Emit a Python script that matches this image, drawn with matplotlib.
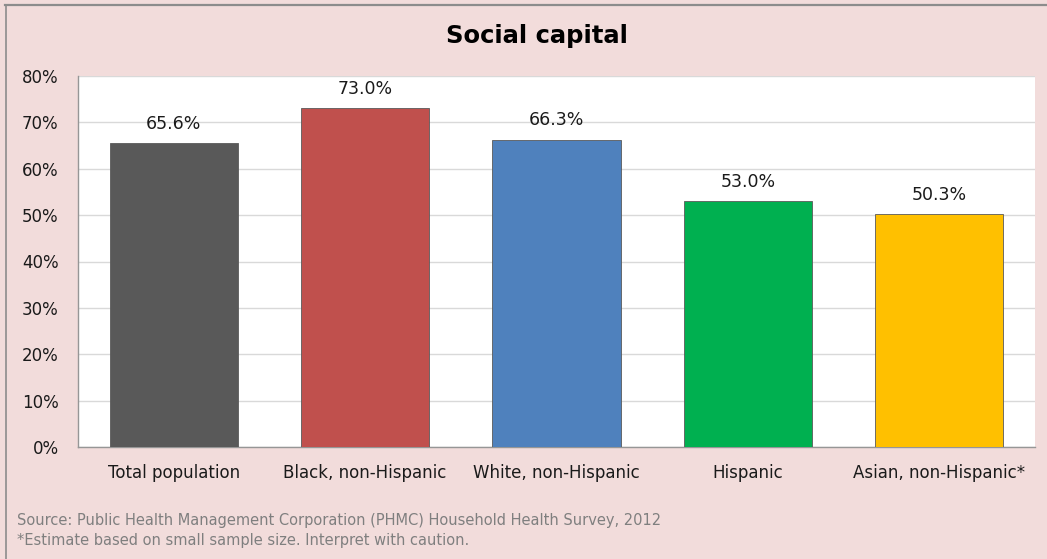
import matplotlib.pyplot as plt
from matplotlib.lines import Line2D

categories = ['Total population', 'Black, non-Hispanic', 'White, non-Hispanic',
              'Hispanic', 'Asian, non-Hispanic*']
values = [65.6, 73.0, 66.3, 53.0, 50.3]
colors = ['#595959', '#C0504D', '#4F81BD', '#00B050', '#FFC000']
yticks = [0, 10, 20, 30, 40, 50, 60, 70, 80]

bg = '#F2DCDB'
W, H = 1047, 559

fig = plt.figure(figsize=(W / 100, H / 100), dpi=100, facecolor=bg)
ax = fig.add_axes([78 / W, 1 - 447 / H, (1035 - 78) / W, (447 - 76) / H])
ax.set_facecolor('white')

x = range(len(categories))
ax.bar(x, values, width=0.67, color=colors, edgecolor='#5a5a5a', linewidth=0.6, zorder=3)
for i, v in enumerate(values):
    ax.text(i, v + 2.2, f'{v:.1f}%', ha='center', va='bottom', fontsize=12.5, color='#1a1a1a')

ax.set_xlim(-0.5, len(categories) - 0.5)
ax.set_ylim(0, 80)
ax.set_yticks(yticks)
ax.set_yticklabels([f'{t}%' for t in yticks], fontsize=12, color='#1a1a1a')
ax.set_xticks(list(x))
ax.set_xticklabels(categories, fontsize=12, color='#1a1a1a')
ax.tick_params(axis='both', length=0)
ax.tick_params(axis='y', pad=14)
ax.tick_params(axis='x', pad=12)
ax.grid(axis='y', color='#D9D9D9', linewidth=1, zorder=0)
for side in ['top', 'right']:
    ax.spines[side].set_visible(False)
for side in ['left', 'bottom']:
    ax.spines[side].set_color('#969696')
    ax.spines[side].set_linewidth(1)

fig.text(537 / W, 1 - 36 / H, 'Social capital', ha='center', va='center',
         fontsize=17.5, fontweight='bold', color='black')
fig.text(17 / W, 1 - 521 / H,
         'Source: Public Health Management Corporation (PHMC) Household Health Survey, 2012',
         ha='left', va='center', fontsize=10.5, color='#7F7F7F')
fig.text(17 / W, 1 - 541 / H, '*Estimate based on small sample size. Interpret with caution.',
         ha='left', va='center', fontsize=10.5, color='#7F7F7F')

# outer frame lines on the top and left edges
fig.add_artist(Line2D([5 / W, 1], [1 - 4.5 / H, 1 - 4.5 / H], color='#8C8C8C', linewidth=1.6))
fig.add_artist(Line2D([5.5 / W, 5.5 / W], [0, 1 - 4.5 / H], color='#8C8C8C', linewidth=1.2))

fig.savefig('out.png', dpi=100, facecolor=bg)
